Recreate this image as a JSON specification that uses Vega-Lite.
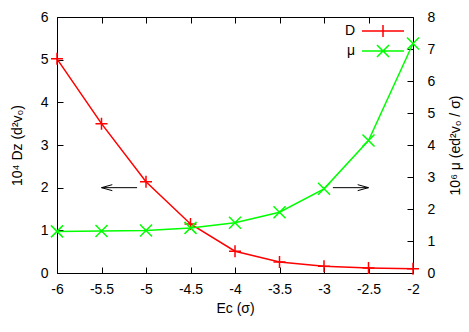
{
  "$schema": "https://vega.github.io/schema/vega-lite/v6.json",
  "width": 356,
  "height": 256,
  "autosize": "none",
  "padding": {"left": 57, "top": 17, "right": 56, "bottom": 59},
  "config": {
    "font": "Liberation Sans",
    "view": {"stroke": "black", "strokeWidth": 1},
    "axis": {
      "grid": false,
      "domain": false,
      "tickColor": "black",
      "tickSize": -6,
      "labelOverlap": false,
      "labelFont": "Liberation Sans",
      "labelFontSize": 14,
      "labelColor": "black",
      "titleFont": "Liberation Sans",
      "titleFontSize": 14,
      "titleFontWeight": "normal",
      "titleColor": "black",
      "labelExpr": "replace(datum.label, '−', '-')"
    }
  },
  "datasets": {
    "main": [
      {"x": -6, "D": 5.02, "mu": 1.30},
      {"x": -5.5, "D": 3.50, "mu": 1.31},
      {"x": -5, "D": 2.14, "mu": 1.33},
      {"x": -4.5, "D": 1.15, "mu": 1.41},
      {"x": -4, "D": 0.51, "mu": 1.57},
      {"x": -3.5, "D": 0.26, "mu": 1.90},
      {"x": -3, "D": 0.16, "mu": 2.63},
      {"x": -2.5, "D": 0.12, "mu": 4.14},
      {"x": -2, "D": 0.10, "mu": 7.17}
    ],
    "arrows": [
      {"from": -5.1, "to": -5.5, "y": 2, "dir": "left"},
      {"from": -2.9, "to": -2.5, "y": 2, "dir": "right"}
    ]
  },
  "resolve": {"scale": {"y": "independent"}, "axis": {"x": "independent"}},
  "layer": [
    {
      "layer": [
        {
          "data": {"name": "main"},
          "mark": {"type": "line", "color": "#ff0000", "strokeWidth": 1.5},
          "encoding": {
            "x": {
              "field": "x", "type": "quantitative",
              "scale": {"domain": [-6, -2], "nice": false, "zero": false},
              "axis": {"values": [-6, -5.5, -5, -4.5, -4, -3.5, -3, -2.5, -2], "format": "~g", "title": "Ec  (σ)", "labelPadding": 15, "titlePadding": 5, "orient": "bottom", "labelFlush": false}
            },
            "y": {
              "field": "D", "type": "quantitative",
              "scale": {"domain": [0, 6], "nice": false},
              "axis": {"values": [0, 1, 2, 3, 4, 5, 6], "title": "10⁴ Dz  (d²v₀)", "labelPadding": 15, "titlePadding": 16, "orient": "left"}
            },
            "stroke": {
              "datum": "D", "type": "nominal",
              "scale": {"domain": ["D", "μ"], "range": ["#ff0000", "#00ff00"]},
              "legend": {
                "title": null,
                "orient": "top-right",
                "offset": 6,
                "labelFontSize": 14,
                "labelFont": "Liberation Sans",
                "labelColor": "black",
                "labelAlign": "right",
                "labelOffset": -36,
                "symbolSize": 196,
                "symbolStrokeWidth": 1.5,
                "rowPadding": 0,
                "encode": {
                  "symbols": {
                    "update": {
                      "shape": {"signal": "datum.value === 'D' ? 'M-3,0L3,0M0,-0.86L0,0.86' : 'M-3,0L3,0M-0.86,-0.86L0.86,0.86M-0.86,0.86L0.86,-0.86'"},
                      "fill": {"value": "transparent"}
                    }
                  }
                }
              }
            }
          }
        },
        {
          "data": {"name": "main"},
          "mark": {"type": "point", "shape": "M-1,0L1,0M0,-1L0,1", "filled": false, "color": "#ff0000", "size": 144, "strokeWidth": 1.5, "opacity": 1},
          "encoding": {
            "x": {"field": "x", "type": "quantitative"},
            "y": {"field": "D", "type": "quantitative"}
          }
        },
        {
          "data": {"name": "arrows"},
          "mark": {"type": "rule", "color": "black", "strokeWidth": 1},
          "encoding": {
            "x": {"field": "from", "type": "quantitative"},
            "x2": {"field": "to"},
            "y": {"field": "y", "type": "quantitative"}
          }
        },
        {
          "data": {"name": "arrows"},
          "mark": {"type": "point", "filled": false, "color": "black", "size": 144, "strokeWidth": 1, "opacity": 1},
          "encoding": {
            "x": {"field": "to", "type": "quantitative"},
            "y": {"field": "y", "type": "quantitative"},
            "shape": {
              "field": "dir", "type": "nominal",
              "scale": {"domain": ["left", "right"], "range": ["M1.8,-0.5L0,0L1.8,0.5", "M-1.8,-0.5L0,0L-1.8,0.5"]},
              "legend": null
            }
          }
        }
      ]
    },
    {
      "encoding": {
        "x": {
          "field": "x", "type": "quantitative",
          "axis": {"values": [-6, -5.5, -5, -4.5, -4, -3.5, -3, -2.5, -2], "orient": "top", "labels": false, "title": null}
        },
        "y": {
          "field": "mu", "type": "quantitative",
          "scale": {"domain": [0, 8], "nice": false},
          "axis": {"values": [0, 1, 2, 3, 4, 5, 6, 7, 8], "labelOverlap": false, "title": "10⁶ μ  (ed²v₀ / σ)", "titleAngle": 270, "orient": "right", "labelPadding": 20, "titlePadding": 28}
        }
      },
      "layer": [
        {
          "data": {"name": "main"},
          "mark": {"type": "line", "color": "#00ff00", "strokeWidth": 1.5},
          "encoding": {
            "stroke": {"datum": "μ", "type": "nominal"}
          }
        },
        {
          "data": {"name": "main"},
          "mark": {"type": "point", "shape": "M-1,-1L1,1M-1,1L1,-1", "filled": false, "color": "#00ff00", "size": 144, "strokeWidth": 1.5, "opacity": 1}
        }
      ]
    }
  ]
}
